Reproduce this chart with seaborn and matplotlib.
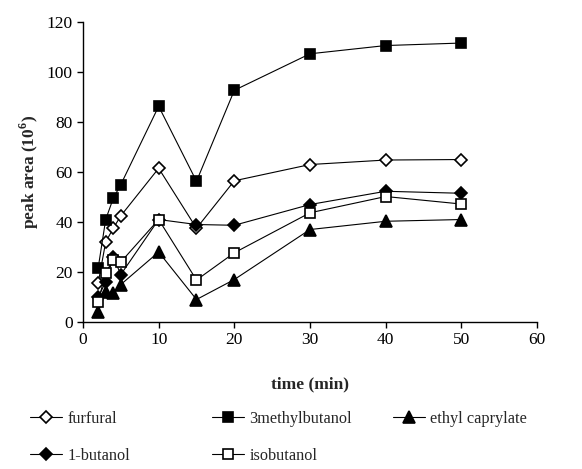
import matplotlib
matplotlib.use("Agg")
import matplotlib.pyplot as plt
import seaborn as sns
import pandas as pd

time_min = [2, 3, 4, 5, 10, 15, 20, 30, 40, 50]
furfural = [15.5, 32, 37.5, 42.5, 61.5, 37.5, 56.5, 63, 64.8, 65]
methylbutanol = [21.5, 41, 49.5, 55, 86.3, 56.3, 92.7, 107.3, 110.6, 111.6]
ethyl_caprylate = [4, 12, 11.5, 15, 28, 9, 17, 37, 40.3, 41]
butanol = [10, 16, 26, 19, 41, 39, 38.7, 47, 52.3, 51.5]
isobutanol = [8, 19.8, 24.8, 24, 41, 16.8, 27.7, 43.7, 50.2, 47.2]

series_names = ["furfural", "3methylbutanol", "ethyl caprylate", "1-butanol", "isobutanol"]
series_values = [furfural, methylbutanol, ethyl_caprylate, butanol, isobutanol]

x_ticks = [0, 10, 20, 30, 40, 50, 60]
y_ticks = [0, 20, 40, 60, 80, 100, 120]

styles = {
    "furfural": dict(marker="D", markerfacecolor="white", markersize=6.2),
    "3methylbutanol": dict(marker="s", markerfacecolor="black", markersize=7.5),
    "ethyl caprylate": dict(marker="^", markerfacecolor="black", markersize=8.2),
    "1-butanol": dict(marker="D", markerfacecolor="black", markersize=6.2),
    "isobutanol": dict(marker="s", markerfacecolor="white", markersize=7.5),
}

sns.set_style("white")
plt.rcParams["font.family"] = ["Liberation Serif", "DejaVu Serif"]
plt.rcParams["mathtext.fontset"] = "custom"
plt.rcParams["mathtext.rm"] = "Liberation Serif"
plt.rcParams["mathtext.bf"] = "Liberation Serif:bold"

fig = plt.figure(figsize=(5.82, 4.69), dpi=100)
ax = fig.add_axes([0.1426, 0.3134, 0.7801, 0.6396])

handles = {}
for name, vals in zip(series_names, series_values):
    df = pd.DataFrame({"time": time_min, "area": vals})
    st = styles[name]
    sns.lineplot(data=df, x="time", y="area", ax=ax, color="black", linewidth=0.8,
                 marker=st["marker"], markersize=st["markersize"],
                 markerfacecolor=st["markerfacecolor"], markeredgecolor="black",
                 markeredgewidth=1.2, legend=False)
    handles[name] = ax.get_lines()[-1]

ax.set_xlim(0, 60)
ax.set_ylim(0, 120)
ax.set_xticks(x_ticks)
ax.set_yticks(y_ticks)
ax.tick_params(axis="both", direction="out", length=4, width=1, labelsize=12.5,
               bottom=True, left=True, colors="black")
for s in ["top", "right"]:
    ax.spines[s].set_visible(False)
for s in ["left", "bottom"]:
    ax.spines[s].set_color("black")
    ax.spines[s].set_linewidth(1)

ax.set_xlabel("time (min)", fontsize=12.5, fontweight="bold", labelpad=20)
ax.set_ylabel("peak area (10$^{\\mathbf{6}}$)", fontsize=12.5, fontweight="bold", labelpad=4)

columns = [["furfural", "1-butanol"], ["3methylbutanol", "isobutanol"], ["ethyl caprylate"]]
col_x = [0.0515, 0.364, 0.675]
for names, cx in zip(columns, col_x):
    fig.legend([handles[n] for n in names], names, loc="upper left",
               bbox_to_anchor=(cx, 0.124),
               frameon=False, fontsize=11.7, handlelength=2.0, handletextpad=0.3,
               labelspacing=1.3, borderaxespad=0, borderpad=0)

fig.savefig("out.png", dpi=100)
